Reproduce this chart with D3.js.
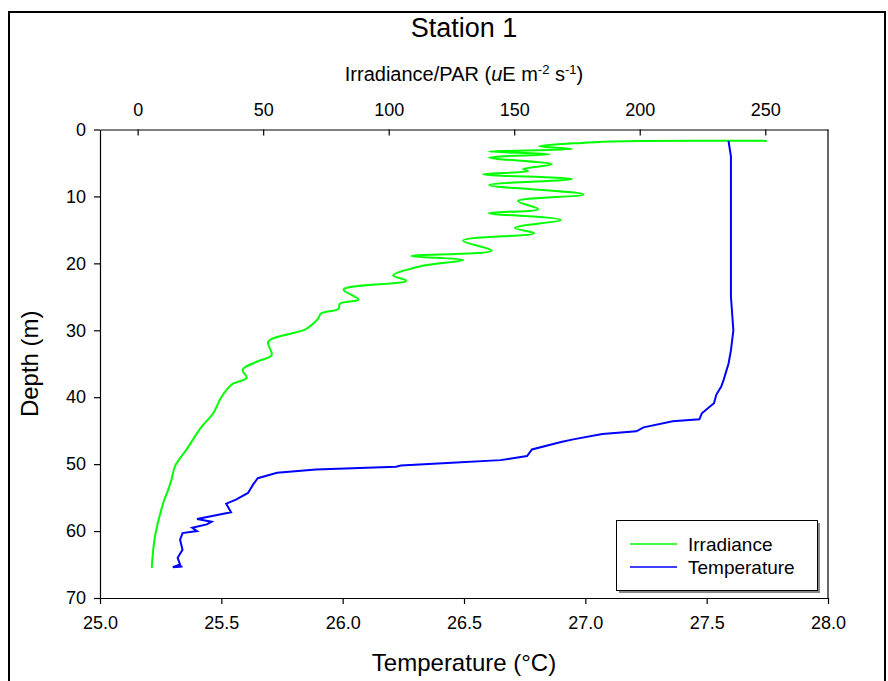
<!DOCTYPE html>
<html>
<head>
<meta charset="utf-8">
<script src="https://cdn.jsdelivr.net/npm/d3@7"></script>
<style>
  body { margin: 0; background: #fff; }
  svg { display: block; font-family: Arial, "Liberation Sans", sans-serif; }
</style>
</head>
<body>
<svg id="chart" width="888" height="681"></svg>
<script>
// irradiance profile (depth in m, PAR in uE m-2 s-1)
var irrDepth = [1.7, 1.7, 1.8, 2.0, 2.5, 2.9, 3.3, 3.7, 4.2, 5.2, 5.9, 6.2, 6.7, 7.4, 8.3, 9.7, 10.7, 11.9, 12.5, 13.5, 14.7, 15.5,
  16.6, 18.1, 18.9, 19.5, 20.4, 21.8, 22.6, 23.9, 25.4, 26.0, 26.8, 27.5, 28.2, 29.0, 29.9, 30.4, 31.7, 33.7, 34.7, 35.9, 37.1,
  38.1, 39.9, 42.4, 44.4, 47.8, 50.3, 52.3, 53.8, 55.8, 60.8, 65.5];
var irrValue = [250.6, 200, 189, 177, 160, 173, 140, 164, 140, 165, 153.5, 155.5, 137.6, 173, 140, 177.6, 151.5, 159.5, 140, 168.6, 150.3, 158,
  129.6, 141, 109, 129.7, 113, 101.8, 107, 82, 88, 80.6, 80, 73, 72, 70, 66.7, 62, 52, 53.4, 47.4, 41.8, 43.4,
  37.5, 33.5, 30.1, 25.5, 19.5, 14.9, 13.5, 12.2, 10.2, 6.9, 5.6];

// temperature profile (depth in m, degC)
var tempDepth = [1.7, 4, 10, 20, 25, 30, 33, 35, 37.4, 38.4, 39.6, 40.9, 41.5, 42.4, 43.3, 43.6, 44.5, 45.1, 45.5, 46.3, 46.7,
  47.8, 48.8, 49.4, 49.8, 50.2, 50.4, 50.8, 51.3, 52.1, 53.1, 54.3, 55.3, 55.9, 57.2, 58.2, 58.6, 59.0, 59.5, 60.0, 60.3,
  61.3, 62.8, 64.0, 65.0, 65.4, 65.3];
var tempValue = [27.59, 27.60, 27.60, 27.60, 27.60, 27.61, 27.60, 27.59, 27.57, 27.56, 27.54, 27.53, 27.51, 27.48, 27.47, 27.36, 27.24, 27.21, 27.07, 26.95, 26.90,
  26.78, 26.76, 26.65, 26.45, 26.24, 26.22, 25.89, 25.73, 25.65, 25.63, 25.61, 25.56, 25.52, 25.54, 25.40, 25.46, 25.44, 25.38, 25.40, 25.34,
  25.33, 25.34, 25.32, 25.33, 25.30, 25.34];

var depthTicks = [0, 10, 20, 30, 40, 50, 60, 70];
var tempTicks = [25.0, 25.5, 26.0, 26.5, 27.0, 27.5, 28.0];
var irrTicks = [0, 50, 100, 150, 200, 250];
var seriesNames = ['Irradiance', 'Temperature'];
var seriesColors = ['#00ff00', '#0000ff'];

var plotLeft = 100, plotRight = 828, plotTop = 129.5, plotBottom = 598;

var svg = d3.select('#chart');

// outer border
svg.append('rect')
  .attr('x', 9).attr('y', 12).attr('width', 876).attr('height', 700)
  .attr('fill', 'none').attr('stroke', '#000').attr('stroke-width', 2);

var y = d3.scaleLinear().domain([0, 70]).range([plotTop, plotBottom]);
var xTemp = d3.scaleLinear().domain([25, 28]).range([plotLeft, plotRight]);
var xIrr = d3.scaleLinear().domain([-15, 275]).range([plotLeft, plotRight]);

// axes
var gLeft = svg.append('g').attr('transform', 'translate(' + plotLeft + ',0)')
  .call(d3.axisLeft(y).tickValues(depthTicks).tickSize(6).tickSizeOuter(0).tickPadding(8).tickFormat(d3.format('d')));
var gBottom = svg.append('g').attr('transform', 'translate(0,' + plotBottom + ')')
  .call(d3.axisBottom(xTemp).tickValues(tempTicks).tickSize(6).tickSizeOuter(0).tickPadding(12).tickFormat(d3.format('.1f')));
var gTop = svg.append('g').attr('transform', 'translate(0,' + plotTop + ')')
  .call(d3.axisTop(xIrr).tickValues(irrTicks).tickSize(-6).tickSizeOuter(0).tickPadding(14).tickFormat(d3.format('d')));

[gLeft, gBottom, gTop].forEach(function(g) {
  g.selectAll('path').attr('stroke', '#000').attr('stroke-width', 1.2);
  g.selectAll('line').attr('stroke', '#000').attr('stroke-width', 1.2);
  g.selectAll('text').attr('fill', '#000').style('font-size', '18px');
});

// right edge of frame
svg.append('line')
  .attr('x1', plotRight).attr('x2', plotRight).attr('y1', plotTop).attr('y2', plotBottom)
  .attr('stroke', '#000').attr('stroke-width', 1.2);

// lines (irradiance is smooth, temperature is stepped)
var irrLine = d3.line()
  .curve(d3.curveCatmullRom.alpha(0.5))
  .x(function(d, i) { return xIrr(irrValue[i]); })
  .y(function(d) { return y(d); });
var tempLine = d3.line()
  .x(function(d, i) { return xTemp(tempValue[i]); })
  .y(function(d) { return y(d); });

svg.append('path').attr('d', irrLine(irrDepth))
  .attr('fill', 'none').attr('stroke', seriesColors[0]).attr('stroke-width', 2);
svg.append('path').attr('d', tempLine(tempDepth))
  .attr('fill', 'none').attr('stroke', seriesColors[1]).attr('stroke-width', 2);

// titles
svg.append('text').attr('x', 464).attr('y', 37).attr('text-anchor', 'middle')
  .style('font-size', '27px').text('Station 1');

var t = svg.append('text').attr('x', 464).attr('y', 81).attr('text-anchor', 'middle')
  .style('font-size', '20px');
t.append('tspan').text('Irradiance/PAR (');
t.append('tspan').style('font-style', 'italic').text('u');
t.append('tspan').text('E m');
t.append('tspan').attr('dy', -7).style('font-size', '13px').text('-2');
t.append('tspan').attr('dy', 7).text(' s');
t.append('tspan').attr('dy', -7).style('font-size', '13px').text('-1');
t.append('tspan').attr('dy', 7).text(')');

svg.append('text').attr('x', 464).attr('y', 671).attr('text-anchor', 'middle')
  .style('font-size', '24px').text('Temperature (°C)');

svg.append('text').attr('transform', 'translate(38,' + ((plotTop + plotBottom) / 2) + ') rotate(-90)')
  .attr('text-anchor', 'middle').style('font-size', '24px').text('Depth (m)');

// legend
var lg = svg.append('g');
lg.append('rect').attr('x', 619).attr('y', 523).attr('width', 201).attr('height', 70).attr('fill', '#888');
lg.append('rect').attr('x', 616.5).attr('y', 520.5).attr('width', 201).attr('height', 70)
  .attr('fill', '#fff').attr('stroke', '#000').attr('stroke-width', 1);
seriesNames.forEach(function(name, i) {
  var ly = 544 + i * 23;
  lg.append('line').attr('x1', 630).attr('x2', 677).attr('y1', ly).attr('y2', ly)
    .attr('stroke', seriesColors[i]).attr('stroke-width', 1.6);
  lg.append('text').attr('x', 688).attr('y', ly + 7).style('font-size', '19px').text(name);
});
</script>
</body>
</html>
